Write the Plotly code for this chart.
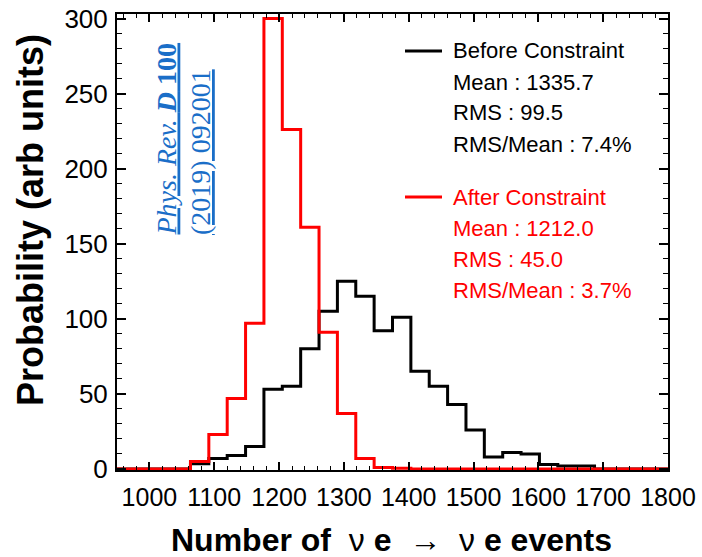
import plotly.graph_objects as go

# ---------------- data ----------------
bin_lo = 950.0
bin_hi = 1800.0
n_bins = 30

before_counts = [0, 0, 0, 0, 3.5, 7, 9, 15, 53, 55,
                 80, 105, 125, 115, 92, 101, 65, 55, 43, 26,
                 8, 11, 10, 3, 2, 2, 0, 0, 0, 0]
after_counts = [0, 0, 0, 0, 5, 23, 47, 97, 300, 226,
                161, 91, 37, 7, 1, 0.4, 0, 0, 0, 0,
                0, 0, 0, 0, 0, 0, 0, 0, 0, 0]

before_label = "Before Constraint"
before_stats = ["Mean : 1335.7", "RMS : 99.5", "RMS/Mean : 7.4%"]
after_label = "After Constraint"
after_stats = ["Mean : 1212.0", "RMS : 45.0", "RMS/Mean : 3.7%"]

x_ticks = [1000, 1100, 1200, 1300, 1400, 1500, 1600, 1700, 1800]
y_ticks = [0, 50, 100, 150, 200, 250, 300]

# ---------------- layout constants ----------------
W, H = 702, 557
ML, MR, MT, MB = 117, 34, 14, 87
PW, PH = W - ML - MR, H - MT - MB

def px_x(px):
    return (px - ML) / PW

def px_y(py):
    return (H - MB - py) / PH

width = (bin_hi - bin_lo) / n_bins
edges = [bin_lo + i * width for i in range(n_bins + 1)]

def step(counts):
    return edges, list(counts) + [counts[-1]]

BLACK = "#000000"
RED = "#ff0000"
BLUE = "#1a6ec8"
FONT = "Liberation Sans"

fig = go.Figure()
xb, yb = step(before_counts)
fig.add_trace(go.Scatter(x=xb, y=yb, mode="lines", line=dict(color=BLACK, width=3, shape="hv"),
                         showlegend=False, hoverinfo="skip"))
xa, ya = step(after_counts)
fig.add_trace(go.Scatter(x=xa, y=ya, mode="lines", line=dict(color=RED, width=3, shape="hv"),
                         showlegend=False, hoverinfo="skip"))

annotations = []
shapes = []

# legend block
lines = [(before_label, BLACK), ] + [(s, BLACK) for s in before_stats] + \
        [(after_label, RED)] + [(s, RED) for s in after_stats]
ys = [51, 82, 113, 144, 197, 228, 259, 290]
for (txt, col), yy in zip(lines, ys):
    annotations.append(dict(x=px_x(451), y=px_y(yy), xref="paper", yref="paper",
                            text=txt, showarrow=False, xanchor="left", yanchor="middle",
                            font=dict(family=FONT, size=22, color=col)))
for yy, col in [(51, BLACK), (197, RED)]:
    shapes.append(dict(type="line", xref="paper", yref="paper",
                       x0=px_x(405), x1=px_x(442), y0=px_y(yy), y1=px_y(yy),
                       line=dict(color=col, width=3)))

# citation (rotated)
annotations.append(dict(x=px_x(166), y=px_y(238), xref="paper", yref="paper",
                        text="<u><i>Phys. Rev. </i><b><i>D</i> 100</b></u>",
                        textangle=-90, showarrow=False, xanchor="center", yanchor="bottom",
                        font=dict(family="Liberation Serif", size=28, color=BLUE)))
annotations.append(dict(x=px_x(200), y=px_y(237), xref="paper", yref="paper",
                        text="<u>(2019) 092001</u>",
                        textangle=-90, showarrow=False, xanchor="center", yanchor="bottom",
                        font=dict(family="Liberation Serif", size=28, color=BLUE)))

# axis titles
annotations.append(dict(x=px_x(391), y=px_y(540), xref="paper", yref="paper",
                        text="<b>Number of</b>\u00a0 ν <b>e</b> \u00a0→\u00a0 ν <b>e events</b>",
                        showarrow=False, xanchor="center", yanchor="middle",
                        font=dict(family=FONT, size=32, color=BLACK)))
annotations.append(dict(x=px_x(31), y=px_y(220), xref="paper", yref="paper",
                        text="<b>Probability (arb units)</b>", textangle=-90,
                        showarrow=False, xanchor="center", yanchor="middle",
                        font=dict(family=FONT, size=36, color=BLACK)))

fig.update_layout(
    width=W, height=H,
    margin=dict(l=ML, r=MR, t=MT, b=MB, pad=0, autoexpand=False),
    paper_bgcolor="white", plot_bgcolor="white",
    annotations=annotations, shapes=shapes,
    font=dict(family=FONT, color=BLACK),
)
fig.update_xaxes(range=[bin_lo, bin_hi], tickvals=x_ticks, ticktext=[str(v) for v in x_ticks],
                 automargin=False, ticklabelstandoff=4,
                 ticks="inside", ticklen=8, tickwidth=1.5, tickcolor=BLACK,
                 showline=True, linewidth=2, linecolor=BLACK, mirror="ticks",
                 showgrid=False, zeroline=False,
                 tickfont=dict(family=FONT, size=25, color=BLACK),
                 minor=dict(ticks="inside", ticklen=4, tickwidth=1.2, dtick=20, tick0=1000,
                            tickcolor=BLACK, showgrid=False))
fig.update_yaxes(range=[-0.7, 303], tickvals=y_ticks, ticktext=[str(v) for v in y_ticks],
                 automargin=False, ticklabelstandoff=2,
                 ticks="inside", ticklen=9, tickwidth=1.5, tickcolor=BLACK,
                 showline=True, linewidth=2, linecolor=BLACK, mirror="ticks",
                 showgrid=False, zeroline=False,
                 tickfont=dict(family=FONT, size=26, color=BLACK),
                 minor=dict(ticks="inside", ticklen=5, tickwidth=1.2, dtick=10, tick0=0,
                            tickcolor=BLACK, showgrid=False))

fig.write_html("out.html")
